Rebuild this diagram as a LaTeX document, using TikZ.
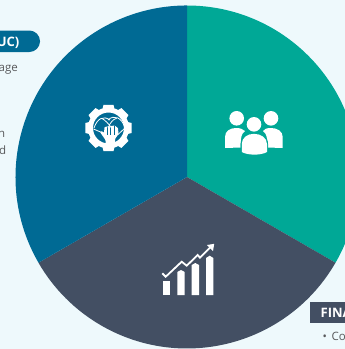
\documentclass[tikz,border=0pt]{standalone}
\usepackage{fontspec}
\setmainfont{Open Sans}
\usetikzlibrary{positioning}
\definecolor{paper}{RGB}{238,249,252}
\definecolor{pieteal}{RGB}{0,168,150}
\definecolor{pieblue}{RGB}{0,106,148}
\definecolor{pieslate}{RGB}{67,79,99}
\definecolor{bodytext}{RGB}{88,89,91}
\tikzset{
  icon/.style={fill=white,draw=none},
  iconline/.style={white,line width=0.8pt},
  bodylabel/.style={inner sep=0pt,text=bodytext,font=\fontsize{11.5}{13}\selectfont},
  headlabel/.style={inner sep=0pt,text=white,font=\fontsize{13}{15}\selectfont\bfseries},
}
\begin{document}
\begin{tikzpicture}[x=1pt,y=-1pt]
\useasboundingbox (0,0) rectangle (345,349);
\clip (0,0) rectangle (345,349);
\fill[paper] (0,0) rectangle (345,349);

% pie
\coordinate (centre) at (187,177);
\fill[pieteal] (centre) -- ++(0,-171.5) arc[start angle=-90,delta angle=120,radius=171.5] -- cycle;
\fill[pieslate] (centre) -- ++(148.5,85.7) arc[start angle=30,end angle=150,radius=171.5] -- cycle;
\fill[pieblue] (centre) -- ++(-148.5,85.7) arc[start angle=150,end angle=270,radius=171.5] -- cycle;

% left column
\fill[pieblue] (-10,30.5) -- (29.3,30.5) arc[start angle=-90,delta angle=180,radius=10.75] -- (-10,52) -- cycle;
\node[headlabel,anchor=base east] (pillhead) at (19.5,46.5) {UC)};
\node[bodylabel,anchor=base east] (ageline) at (18,71) {age};
\node[bodylabel,anchor=base east] (nline) at (5.5,137.5) {n};
\node[bodylabel,anchor=base east] (dline) at (6.3,154) {d};

% lower right
\fill[pieslate] (310,301.7) rectangle (345,322.7);
\node[headlabel,anchor=base west] (finahead) at (320.5,317) {FINA};
\node[bodylabel,anchor=base west] (bulletline) at (322.5,340.5) {•\hspace{4.5pt}Co};

% gear
\fill[icon,even odd rule] (108.5,128) circle[radius=15.5]
  (108.5,128) circle[radius=20.5];
\foreach \a in {0,45,...,315}
  \fill[icon,rotate around={\a:(108.5,128)}] (102.5,109) -- (114.5,109) -- (113.5,104.8) -- (103.5,104.8) -- cycle;
% hand
\fill[icon,rounded corners=0.8pt] (100,132) -- (102,131) -- (104,133) -- (104.5,127) -- (114.5,125.5) -- (118,128) -- (118.5,134) -- (115,139) -- (115,144) -- (105.5,144) -- (105.5,140) -- cycle;
\draw[pieblue,line width=0.45pt] (107.5,127) -- (107.5,135) (110.7,126) -- (110.7,135) (114,126) -- (114,135);
\draw[iconline] (101.7,118.3) .. controls (105,120) and (109,124) .. (111.7,128.3);
\draw[iconline] (116.7,118.3) .. controls (113,119) and (110,123) .. (108,128);
\draw[iconline] (94,128) .. controls (97,119) and (103,115) .. (110,120);
\draw[iconline] (124.5,127) .. controls (122,118) and (114,114) .. (108,120);
\draw[iconline] (93.5,129) -- (104,133.5);
\draw[iconline] (125,128) -- (118,134.5);

% people
\fill[icon] (236.7,118.3) circle[radius=7.3];
\fill[icon] (271,118.3) circle[radius=7.3];
\fill[icon] (225,148) -- (225,137) .. controls (225,131) and (230,128) .. (236,128) .. controls (240,128) and (243,129) .. (245,131) .. controls (241,134) and (241,137) .. (240.5,147.5) -- cycle;
\fill[icon] (282.7,148) -- (282.7,137) .. controls (282.7,131) and (277,128) .. (271,128) .. controls (267,128) and (264,129) .. (263,131) .. controls (267,134) and (267,137) .. (267.5,147.5) -- cycle;
\fill[icon] (254,124.3) circle[radius=7.3];
\fill[pieteal] (240.7,155) -- (240.7,144) .. controls (240.7,136) and (247,132.7) .. (254,132.7) .. controls (262,132.7) and (268,136) .. (268,144) -- (268,155) -- cycle;
\fill[icon] (241.8,152) .. controls (248,155.5) and (261,155.5) .. (267,152) -- (267,144) .. controls (267,138) and (261,133.8) .. (254,133.8) .. controls (247,133.8) and (241.8,138) .. (241.8,144) -- cycle;

% chart
\fill[icon] (162.7,295) rectangle (170,280.7);
\fill[icon] (177.3,295) -- (177.3,272) -- (181,270) -- (184.7,272) -- (184.7,295) -- cycle;
\fill[icon] (191.7,295) -- (191.7,265) -- (195.3,263) -- (199,265) -- (199,295) -- cycle;
\fill[icon] (206,295) -- (206,258) -- (209.7,255.7) -- (213.3,258) -- (213.3,295) -- cycle;
\draw[white,line width=1.8pt] (162.3,273.3) -- (165.7,276.7) -- (181.7,261.7) -- (186.7,265.7) -- (197.7,255) -- (200,257.7) -- (211,246.7);
\fill[icon] (214.2,243.8) -- (213,251) -- (207,245) -- cycle;
\end{tikzpicture}
\end{document}
